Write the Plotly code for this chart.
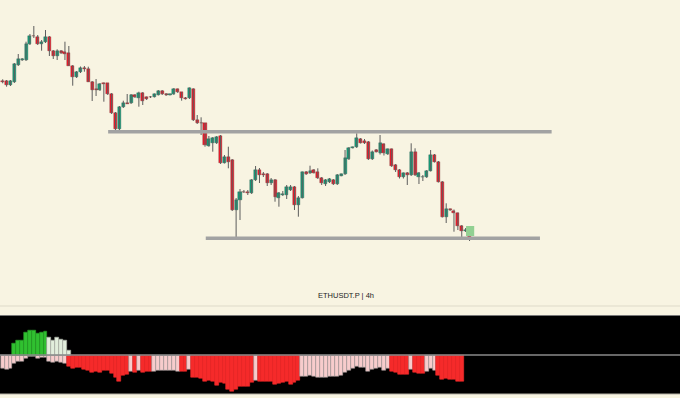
import plotly.graph_objects as go

# ---------------- price data (4h candles) ----------------
candle_idx = list(range(121))
opens = [3190, 3190, 3150, 3180, 3350, 3405, 3400, 3560, 3640, 3633,
         3560, 3583, 3630, 3490, 3443, 3490, 3480, 3470, 3343, 3233,
         3280, 3320, 3310, 3183, 3110, 3100, 3167, 3167, 3060, 2870,
         2707, 2927, 2970, 2967, 3050, 3017, 3073, 3027, 3033, 3033,
         3053, 3090, 3060, 3055, 3060, 3110, 3077, 3017, 3017, 3110,
         2800, 2773, 2767, 2543, 2567, 2567, 2640, 2373, 2433, 2400,
         1900, 2000, 2085, 2083, 2067, 2200, 2300, 2257, 2257, 2167,
         2200, 2023, 2055, 2050, 2100, 2133, 1950, 2023, 2277, 2267,
         2300, 2283, 2223, 2157, 2177, 2200, 2157, 2243, 2257, 2407,
         2525, 2527, 2610, 2593, 2583, 2407, 2500, 2467, 2560, 2460,
         2507, 2350, 2300, 2227, 2273, 2250, 2483, 2227, 2227, 2227,
         2293, 2450, 2383, 2183, 1833, 1907, 1893, 1867, 1740, 1690,
         1650]
highs = [3207, 3200, 3200, 3370, 3460, 3420, 3583, 3660, 3740, 3650,
         3600, 3700, 3640, 3500, 3507, 3500, 3583, 3540, 3350, 3290,
         3335, 3340, 3333, 3190, 3210, 3170, 3175, 3170, 3070, 2880,
         2940, 2993, 3060, 3060, 3060, 3083, 3080, 3035, 3040, 3065,
         3100, 3100, 3070, 3065, 3120, 3115, 3080, 3030, 3125, 3117,
         2850, 2827, 2770, 2640, 2630, 2640, 2650, 2450, 2533, 2410,
         2020, 2110, 2100, 2100, 2210, 2340, 2320, 2280, 2270, 2220,
         2210, 2080, 2090, 2150, 2150, 2140, 2040, 2285, 2290, 2343,
         2310, 2317, 2230, 2210, 2220, 2210, 2260, 2265, 2500, 2530,
         2535, 2667, 2620, 2610, 2590, 2495, 2510, 2650, 2567, 2515,
         2515, 2360, 2310, 2275, 2280, 2567, 2517, 2280, 2250, 2300,
         2500, 2460, 2390, 2190, 1967, 1915, 1905, 1875, 1750, 1720,
         1670]
lows = [3167, 3133, 3140, 3170, 3340, 3390, 3390, 3550, 3620, 3550,
        3493, 3570, 3440, 3410, 3400, 3460, 3400, 3340, 3143, 3220,
        3270, 3283, 3180, 2990, 3040, 3090, 2983, 3050, 2860, 2700,
        2700, 2920, 2960, 2960, 3020, 2933, 2950, 3000, 3020, 3025,
        3045, 3050, 3040, 3045, 3050, 3070, 2993, 3005, 3010, 2790,
        2760, 2650, 2533, 2533, 2483, 2560, 2360, 2365, 2317, 1890,
        1600, 1800, 2070, 2050, 2060, 2190, 2170, 2230, 2140, 2150,
        1983, 1933, 2040, 2010, 2090, 1900, 1833, 2015, 2250, 2260,
        2265, 2210, 2150, 2140, 2170, 2150, 2150, 2237, 2250, 2400,
        2515, 2520, 2565, 2560, 2400, 2400, 2475, 2455, 2445, 2450,
        2330, 2280, 2215, 2215, 2150, 2240, 2240, 2160, 2190, 2220,
        2285, 2375, 2175, 1825, 1770, 1890, 1683, 1700, 1617, 1680,
        1590]
closes = [3185, 3150, 3190, 3360, 3410, 3410, 3560, 3640, 3637, 3560,
          3583, 3630, 3490, 3443, 3490, 3470, 3465, 3343, 3233, 3280,
          3323, 3310, 3183, 3100, 3103, 3160, 3164, 3060, 2870, 2707,
          2930, 2973, 2965, 3050, 3027, 3073, 2993, 3007, 3030, 3057,
          3090, 3060, 3055, 3060, 3110, 3077, 3017, 3015, 3117, 2800,
          2767, 2770, 2550, 2607, 2617, 2633, 2367, 2433, 2383, 1900,
          2000, 2083, 2080, 2067, 2200, 2300, 2250, 2253, 2167, 2200,
          2027, 2067, 2060, 2133, 2133, 1950, 2023, 2277, 2260, 2293,
          2273, 2217, 2167, 2200, 2210, 2157, 2250, 2257, 2417, 2523,
          2527, 2617, 2573, 2567, 2407, 2483, 2483, 2567, 2467, 2507,
          2340, 2300, 2227, 2267, 2250, 2483, 2250, 2267, 2230, 2293,
          2450, 2383, 2183, 1833, 1907, 1904, 1873, 1740, 1693, 1705,
          1620]

# ---------------- oscillator ----------------
osc_idx = list(range(119))
osc_bear = [-133, -140, -133, -83, -67, -67, -33, -17, -17, -33,
            -27, -23, -67, -77, -67, -70, -83, -110, -133, -127,
            -127, -140, -157, -173, -160, -173, -157, -157, -183, -223,
            -267, -200, -190, -160, -173, -157, -177, -167, -167, -160,
            -150, -157, -150, -157, -150, -160, -167, -167, -140, -223,
            -227, -233, -267, -250, -260, -300, -277, -283, -340, -367,
            -343, -317, -317, -310, -277, -250, -260, -260, -267, -260,
            -293, -283, -277, -267, -293, -277, -257, -210, -210, -200,
            -210, -223, -227, -223, -210, -217, -210, -200, -170, -157,
            -133, -117, -123, -127, -160, -140, -133, -127, -150, -133,
            -167, -177, -190, -190, -190, -140, -177, -183, -183, -167,
            -133, -150, -200, -243, -233, -243, -243, -260, -267]
# R = strong (red), P = weak (pink)
osc_bear_shade = ("PPPPPPPPPPPPPPPPP" + "RRRRRRRRRRRRRRRR" + "P" + "R" + "P" + "RRR"
                  + "PPPPPPP" + "RR" + "P" + "RRRRRRRRRRRRRRRR" + "P" + "RRRRRRRRRRR"
                  + "PPPPPPPPPPPPPPPPPPPPPPP" + "RRRRR" + "P" + "RRR" + "PPP" + "RRRRRRR")
osc_bull_idx = list(range(3, 18))
osc_bull = [120, 150, 143, 223, 250, 243, 217, 223, 233, 173, 150, 173, 157, 143, 50]
osc_bull_shade = "GGGGGGGGGWWWWWW"

# ---------------- drawn levels ----------------
resistance_level = 2682
resistance_span = (27.1, 141.1)
support_level = 1617
support_span = (52.2, 138.1)
marker_box_span = (119.1, 121.2)
marker_box_levels = (1640, 1740)
title_text = "ETHUSDT.P | 4h"

CREAM = "#f8f4e2"
UP_FILL, DOWN_FILL = "#14a07c", "#f5192a"
UP_EDGE, DOWN_EDGE = "#25574a", "#6e2a2e"
bear_colors = {"R": "#f52a2a", "P": "#f7cccc"}
bear_lines = {"R": "#f52a2a", "P": "#a59c9c"}
bull_colors = {"G": "#30c030", "W": "#e2eedc"}
bull_lines = {"G": "#279a27", "W": "#a8aca4"}

fig = go.Figure()

# wicks
wick_x, wick_y = [], []
for i, h, l in zip(candle_idx, highs, lows):
    wick_x += [i, i, None]
    wick_y += [l, h, None]
fig.add_trace(go.Scatter(x=wick_x, y=wick_y, mode="lines",
                         line=dict(color="#5c5c5c", width=1),
                         xaxis="x", yaxis="y", hoverinfo="skip", showlegend=False))

# bodies
body_base = [min(o, c) for o, c in zip(opens, closes)]
body_len = [max(abs(c - o), 5) for o, c in zip(opens, closes)]
body_up = [c >= o for o, c in zip(opens, closes)]
fig.add_trace(go.Bar(x=candle_idx, y=body_len, base=body_base, width=0.78,
                     marker=dict(color=[UP_FILL if u else DOWN_FILL for u in body_up],
                                 line=dict(color=[UP_EDGE if u else DOWN_EDGE for u in body_up],
                                           width=0.4)),
                     xaxis="x", yaxis="y", showlegend=False))

fig.add_trace(go.Bar(
    x=osc_idx, y=osc_bear, width=1.0, xaxis="x", yaxis="y2",
    marker=dict(color=[bear_colors[s] for s in osc_bear_shade],
                line=dict(color=[bear_lines[s] for s in osc_bear_shade], width=0.6)),
    showlegend=False,
))
fig.add_trace(go.Bar(
    x=osc_bull_idx, y=osc_bull, width=1.0, xaxis="x", yaxis="y2",
    marker=dict(color=[bull_colors[s] for s in osc_bull_shade],
                line=dict(color=[bull_lines[s] for s in osc_bull_shade], width=0.6)),
    showlegend=False,
))

W, H = 680, 398
panel_top = (H - 315.5) / H
panel_bot = (H - 394) / H

shapes = [
    dict(type="rect", xref="paper", yref="paper", x0=0, x1=1, y0=panel_bot, y1=panel_top,
         fillcolor="#000000", line=dict(width=0), layer="below"),
    dict(type="line", xref="paper", yref="paper", x0=0, x1=1, y0=panel_top, y1=panel_top,
         line=dict(color="#777777", width=1)),
    dict(type="line", xref="paper", yref="paper", x0=0, x1=1, y0=panel_bot, y1=panel_bot,
         line=dict(color="#b4b0a4", width=1)),
    dict(type="line", xref="paper", yref="paper", x0=0, x1=1, y0=(H - 306) / H, y1=(H - 306) / H,
         line=dict(color="#dedac9", width=1)),
    dict(type="line", xref="paper", yref="y2", x0=0, x1=1, y0=0, y1=0,
         line=dict(color="#8a8a8a", width=1.5), layer="above"),
    dict(type="line", xref="x", yref="y", x0=resistance_span[0], x1=resistance_span[1],
         y0=resistance_level, y1=resistance_level, line=dict(color="#a2a2a2", width=3.5)),
    dict(type="line", xref="x", yref="y", x0=support_span[0], x1=support_span[1],
         y0=support_level, y1=support_level, line=dict(color="#a2a2a2", width=3.5)),
    dict(type="rect", xref="x", yref="y", x0=marker_box_span[0], x1=marker_box_span[1],
         y0=marker_box_levels[0], y1=marker_box_levels[1],
         fillcolor="#92d092", line=dict(width=0), layer="above"),
]

fig.update_layout(
    width=W, height=H,
    margin=dict(l=0, r=0, t=0, b=0),
    paper_bgcolor=CREAM, plot_bgcolor=CREAM,
    barmode="overlay", bargap=0,
    showlegend=False,
    xaxis=dict(range=[-0.694, 174.1], visible=False,
               showgrid=False, zeroline=False),
    yaxis=dict(domain=[(H - 305) / H, 1], range=[950, 4000], visible=False,
               showgrid=False, zeroline=False),
    yaxis2=dict(domain=[panel_bot, panel_top], range=[-390, 395], visible=False,
                showgrid=False, zeroline=False, anchor="x"),
    shapes=shapes,
    annotations=[dict(text=title_text, xref="paper", yref="paper",
                      x=345.8 / W, y=(H - 295.5) / H, showarrow=False,
                      xanchor="center", yanchor="middle",
                      font=dict(family="Liberation Sans, Arial, sans-serif", size=7.5,
                                color="#1e1e1e"))],
)

fig.write_html("out.html", config={"displayModeBar": False})

# remove the browser's default page margin so the figure fills the window
with open("out.html", encoding="utf-8") as f:
    page = f.read()
page = page.replace("<head>", "<head><style>html,body{margin:0;padding:0;overflow:hidden;}</style>", 1)
with open("out.html", "w", encoding="utf-8") as f:
    f.write(page)
